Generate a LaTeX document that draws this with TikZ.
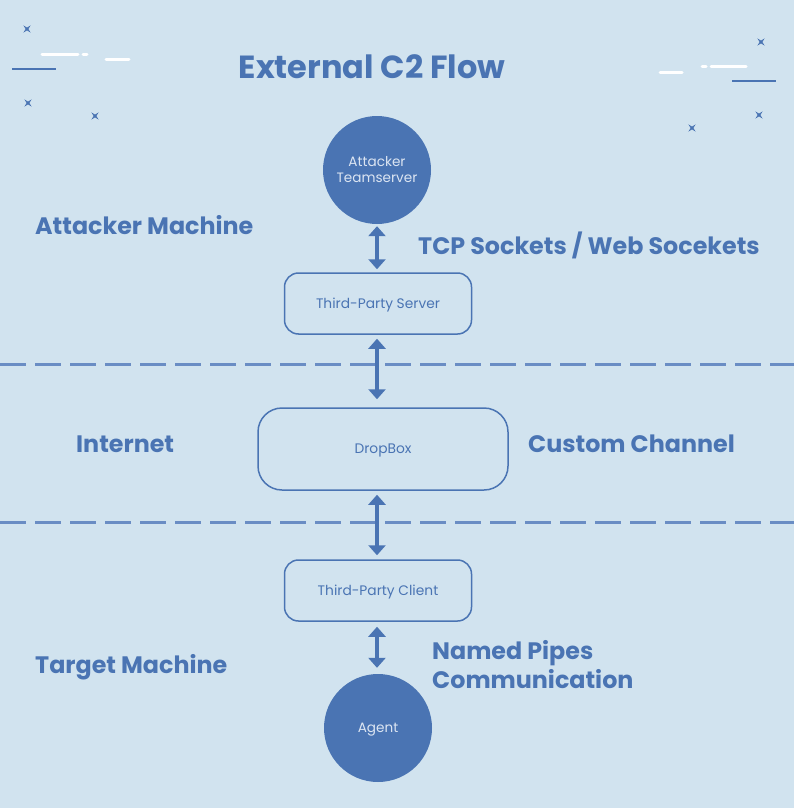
\documentclass[tikz,border=0pt]{standalone}
\usepackage{fontspec}
\setmainfont{Poppins}
\usetikzlibrary{arrows.meta}
\definecolor{bg}{HTML}{D1E3EF}
\definecolor{blu}{HTML}{4A74B3}
\definecolor{dashc}{HTML}{6A8DC4}
\definecolor{circtxt}{HTML}{DCE5F2}
\begin{document}
\begin{tikzpicture}[x=1pt,y=-1pt,
  circ/.style={circle, fill=blu, minimum size=108pt, inner sep=0pt, text=circtxt, font=\fontsize{13.6}{16}\selectfont, align=center},
  rbox/.style={draw=blu, line width=1.5pt, rounded corners=14pt, text=blu, font=\fontsize{13.8}{16}\selectfont, minimum width=187pt, minimum height=61pt, inner sep=0pt, text depth=0pt},
  head/.style={text=blu, font=\bfseries\fontsize{23.8}{29}\selectfont, inner sep=0pt, anchor=west, align=left},
  bidi/.style={{Triangle[width=17pt,length=10pt]}-{Triangle[width=17pt,length=10pt]}, line width=4pt, draw=blu},
  sepline/.style={draw=dashc, line width=3pt, dash pattern=on 26pt off 9pt},
  wline/.style={draw=white, line width=3pt, line cap=round},
  bline/.style={draw=blu, line width=2.5pt},
  spark/.pic={\fill[blu, rotate=45] (0,-5) -- (1,-1) -- (5,0) -- (1,1) -- (0,5) -- (-1,1) -- (-5,0) -- (-1,-1) -- cycle;}
]
\fill[bg] (0,0) rectangle (794,808);
\useasboundingbox (0,0) rectangle (794,808);

% decorations
\pic at (27,29) {spark};
\pic at (28,103) {spark};
\pic at (95,116) {spark};
\pic at (761,42) {spark};
\pic at (759,115) {spark};
\pic at (692,128) {spark};
\draw[wline] (42,55) -- (78,55);
\draw[wline] (83,55) -- (87,55);
\draw[wline] (106,60) -- (129,60);
\draw[bline] (12,69) -- (56,69);
\draw[wline] (660,72) -- (682,72);
\draw[wline] (702,67) -- (706,67);
\draw[wline] (711,67) -- (746,67);
\draw[bline] (732,81) -- (776,81);

% separators
\coordinate (s1l) at (0,364); \coordinate (s1r) at (794,364);
\coordinate (s2l) at (0,522); \coordinate (s2r) at (794,522);
\draw[sepline] (s1l) -- (s1r);
\draw[sepline] (s2l) -- (s2r);

% title
\node[text=blu, font=\bfseries\fontsize{32}{36}\selectfont, inner sep=0pt] (title) at (372,67) {External C2 Flow};

% nodes
\node[circ] (ts) at (377,170) {Attacker\\Teamserver};
\node[rbox] (tps) at (378,303.5) {Third-Party Server};
\node[rbox, minimum width=250pt, minimum height=82pt, rounded corners=24pt] (db) at (383,449) {DropBox};
\node[rbox] (tpc) at (378,590.5) {Third-Party Client};
\node[circ, text depth=0pt] (ag) at (378,728) {Agent};

% connectors
\draw[bidi, shorten <=2pt, shorten >=3pt] (ts.south) -- (ts.south |- tps.north);
\draw[bidi, shorten <=4pt, shorten >=8pt] (ts.south |- tps.south) -- (ts.south |- db.north);
\draw[bidi, shorten <=4pt, shorten >=4pt] (ts.south |- db.south) -- (ts.south |- tpc.north);
\draw[bidi, shorten <=5pt, shorten >=6pt] (ts.south |- tpc.south) -- (ts.south |- ag.north);

% labels
\node[head] (lam) at (35,225) {Attacker Machine};
\node[head] (ltcp) at (418,245) {TCP Sockets / Web Socekets};
\node[head] (lint) at (76,444) {Internet};
\node[head] (lcc) at (528,444) {Custom Channel};
\node[head] (ltm) at (35,667) {Target Machine};
\node[head] (lnp) at (432,664.5) {Named Pipes\\Communication};
\end{tikzpicture}
\end{document}
